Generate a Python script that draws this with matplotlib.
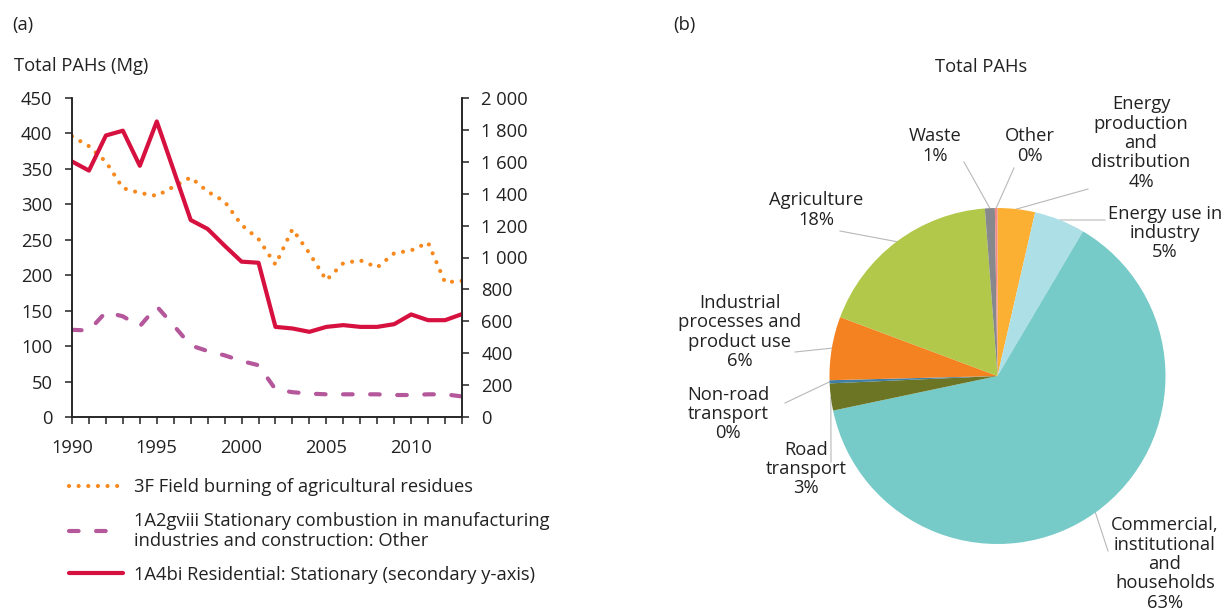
import numpy as np
import matplotlib
matplotlib.use('Agg')
import matplotlib.pyplot as plt
from matplotlib.ticker import FuncFormatter, MultipleLocator

plt.rcParams['font.family'] = ['Open Sans', 'DejaVu Sans']
plt.rcParams['text.color'] = '#222222'
plt.rcParams['axes.edgecolor'] = '#222222'
plt.rcParams['xtick.color'] = '#222222'
plt.rcParams['ytick.color'] = '#222222'

FS = 13.2

# (a) 時系列データ
years = list(range(1990, 2014))
field_burning = [396, 382, 360, 323, 316, 312, 325, 338, 318, 304, 271, 251,
                 215, 265, 231, 193, 217, 221, 211, 231, 235, 246, 190, 192]
manufacturing = [123, 122, 148, 142, 128, 156, 129, 101, 93, 87, 79, 73,
                 39, 35, 33, 32, 32, 32, 32, 31, 31, 32, 32, 29]
residential = [1602, 1545, 1765, 1795, 1575, 1853, 1545, 1235, 1179, 1074, 974, 967,
               565, 555, 534, 565, 576, 565, 565, 582, 643, 607, 607, 645]

series_labels = ["3F Field burning of agricultural residues",
                 "1A2gviii Stationary combustion in manufacturing\nindustries and construction: Other",
                 "1A4bi Residential: Stationary (secondary y-axis)"]

# (b) 円グラフ (時計回り、上から)
sectors = ["Energy\nproduction\nand\ndistribution", "Energy use in\nindustry",
           "Commercial,\ninstitutional\nand\nhouseholds", "Road\ntransport",
           "Non-road\ntransport", "Industrial\nprocesses and\nproduct use",
           "Agriculture", "Waste", "Other"]
shares = [3.6, 4.9, 63.2, 2.6, 0.3, 6.1, 18.1, 0.95, 0.25]
pie_colors = ['#fbb034', '#addfe6', '#76cac8', '#6b7524', '#3f7fa6',
              '#f58220', '#b2c84a', '#87888b', '#f08a8a']

W, H = 1227, 613
fig = plt.figure(figsize=(W / 100, H / 100), dpi=100)

def px_box(x0, y0, x1, y1):
    return [x0 / W, 1 - y1 / H, (x1 - x0) / W, (y1 - y0) / H]

# ---- (a) ----
ax = fig.add_axes(px_box(72, 98, 462, 417))
ax2 = ax.twinx()
lw = 3.0
l1, = ax.plot(years, field_burning, color='#f7891f', lw=lw, linestyle=(0, (0.01, 2.3)),
              dash_capstyle='round', label=series_labels[0])
l2, = ax.plot(years, manufacturing, color='#b5579b', lw=lw, linestyle=(0, (2.3, 4.2)),
              dash_capstyle='round', label=series_labels[1])
l3, = ax2.plot(years, residential, color='#d6113f', lw=lw, solid_capstyle='round',
               solid_joinstyle='round', label=series_labels[2])

ax.set_xlim(1990, 2013)
ax.set_ylim(0, 450)
ax2.set_ylim(0, 2000)
ax.yaxis.set_major_locator(MultipleLocator(50))
ax2.yaxis.set_major_locator(MultipleLocator(200))
ax2.yaxis.set_major_formatter(FuncFormatter(lambda v, p: f"{v:,.0f}".replace(',', ' ')))
ax.xaxis.set_major_locator(MultipleLocator(5))
ax.xaxis.set_minor_locator(MultipleLocator(1))

for a in (ax, ax2):
    a.spines['top'].set_visible(False)
    for s in a.spines.values():
        s.set_linewidth(1.1)
    a.tick_params(direction='out', length=5, width=1.1, labelsize=FS)
ax.tick_params(axis='x', which='minor', direction='out', length=5, width=1.1)
ax.tick_params(axis='x', which='major', length=5, pad=11)
ax.tick_params(axis='y', pad=9)
ax2.tick_params(axis='y', pad=9)

fig.text(12 / W, 1 - 25 / H, "(a)", fontsize=FS, va='center')
fig.text(14 / W, 1 - 66 / H, "Total PAHs (Mg)", fontsize=FS, va='center')

leg = fig.legend(handles=[l1, l2, l3], loc='upper left', bbox_to_anchor=(69 / W, 1 - 478 / H),
                 frameon=False, fontsize=FS, handlelength=2.95, handletextpad=0.6,
                 labelspacing=0.88, borderaxespad=0, borderpad=0)
for t in leg.get_texts():
    t.set_linespacing(1.1)

# ---- (b) ----
cx, cy, r = 997.5, 376, 168
pax = fig.add_axes(px_box(cx - r, cy - r, cx + r, cy + r))
wedges, _ = pax.pie(shares, colors=pie_colors, startangle=90, counterclock=False,
                    radius=1, wedgeprops=dict(linewidth=0))
pax.set_xlim(-1, 1)
pax.set_ylim(-1, 1)
pax.set_aspect('equal')
pax.axis('off')

# ラベル位置 (画素) と引き出し線の始点
label_pos = [(1141, 143), (1165, 233), (1165, 564), (806, 469), (728, 414),
             (740, 332), (816, 210), (935, 146), (1030, 146)]
leader_from = [(1088, 189), (1105, 220), (1108, 551), (831, 462), (785, 403),
               (795, 352), (840, 231), (964, 162), (1014, 168)]

def to_data(p):
    return ((p[0] - cx) / r, (cy - p[1]) / r)

for w, name, val, lp, lf in zip(wedges, sectors, shares, label_pos, leader_from):
    mid = np.deg2rad((w.theta1 + w.theta2) / 2)
    edge = (np.cos(mid), np.sin(mid))
    pax.plot([to_data(lf)[0], edge[0]], [to_data(lf)[1], edge[1]], color='#b8b8b8',
             lw=0.8, clip_on=False, zorder=0)
    pax.text(*to_data(lp), f"{name}\n{val:.0f}%", ha='center', va='center',
             fontsize=FS, linespacing=1.1)

fig.text(981 / W, 1 - 67 / H, "Total PAHs", fontsize=FS, ha='center', va='center')
fig.text(684 / W, 1 - 25 / H, "(b)", fontsize=FS, ha='center', va='center')

fig.savefig('out.png', dpi=100)
